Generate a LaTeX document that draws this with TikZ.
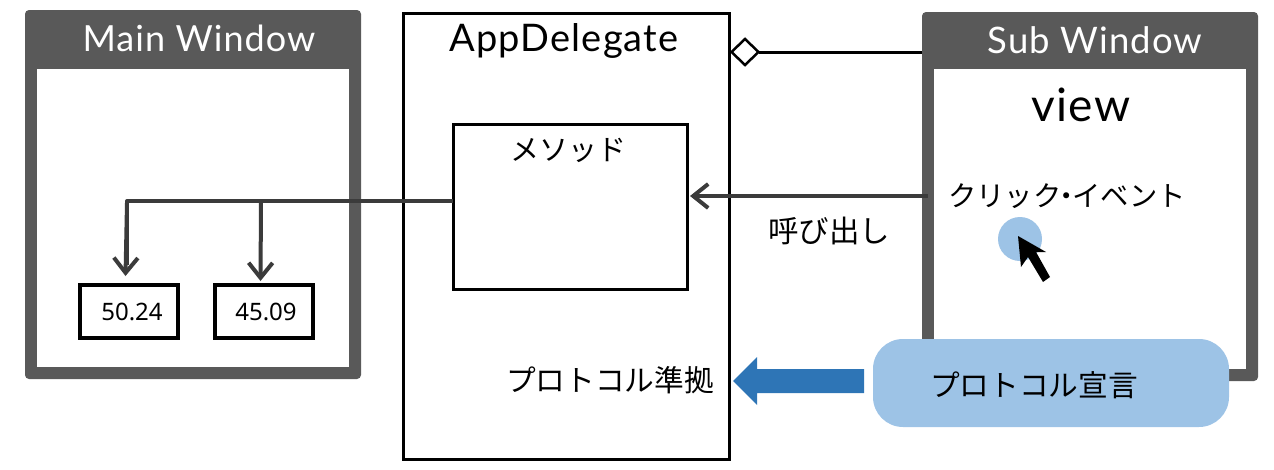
\documentclass[tikz,border=0pt]{standalone}
\usepackage{fontspec}
\usetikzlibrary{arrows.meta,shapes.geometric}
\setmainfont{Noto Sans CJK JP}
\newfontfamily\numfont{Noto Sans}
\newfontfamily\latfont[LetterSpace=3]{Lato}
\definecolor{wingray}{HTML}{595959}
\definecolor{lineink}{HTML}{3B3B3B}
\definecolor{softblue}{HTML}{9DC3E6}
\definecolor{deepblue}{HTML}{2E75B6}
\tikzset{
  x=1pt,y=-1pt,
  box/.style={anchor=north west,inner sep=0pt,outer sep=0pt,draw=none},
  winframe/.style={box,fill=wingray,rounded corners=4pt},
  winbody/.style={box,fill=white},
  wintitle/.style={text=white,inner sep=0pt,font=\latfont\fontsize{36}{36}\selectfont},
  plainbox/.style={box,draw=black,fill=white,line width=3pt},
  valbox/.style={box,draw=black,fill=white,line width=4pt},
  label/.style={inner sep=0pt,text=black,font=\fontsize{29.7}{30}\selectfont},
  vallabel/.style={inner sep=0pt,text=black,font=\numfont\fontsize{24}{24}\selectfont},
  wire/.style={draw=lineink,line width=4pt},
  wirearrow/.style={wire,-{Straight Barb[length=15pt,width=24pt,line width=4pt]}},
}
\begin{document}
\begin{tikzpicture}
\useasboundingbox (0,0) rectangle (1274,469);
% windows
\node[winframe,minimum width=336pt,minimum height=369pt] (mainframe) at (25,10) {};
\node[winbody,minimum width=312pt,minimum height=298pt] (mainbody) at (37,69) {};
\node[wintitle] (maintitle) at (199,38) {Main Window};
\node[winframe,minimum width=336pt,minimum height=369pt] (subframe) at (922,12) {};
\node[winbody,minimum width=312pt,minimum height=300pt] (subbody) at (934,69) {};
\node[wintitle,font=\latfont\fontsize{36.5}{37}\selectfont] (subtitle) at (1095,40) {Sub Window};
% AppDelegate
\node[plainbox,minimum width=326pt,minimum height=446pt] (app) at (403,13) {};
\node[label,font=\latfont\fontsize{38}{38}\selectfont] (apptitle) at (564,41) {AppDelegate};
\node[plainbox,minimum width=234pt,minimum height=165pt] (method) at (453,124) {};
\node[label,font=\fontsize{29}{29}\selectfont] (methodlabel) at (568,150) {メソッド};
% value boxes
\node[valbox,minimum width=98pt,minimum height=53pt] (valA) at (80,285) {};
\node[vallabel] (valAt) at (132,312) {50.24};
\node[valbox,minimum width=98pt,minimum height=53pt] (valB) at (214.5,285) {};
\node[vallabel] (valBt) at (266,312) {45.09};
% method to values
\coordinate (elbow) at (127,201);
\coordinate (branch) at (261,201);
\coordinate (endA) at (125.5,276);
\coordinate (endB) at (260.5,281);
\draw[wire,line join=round] (method.west |- elbow) -- (elbow) -- (127,240) -- (127,265);
\draw[wirearrow] (127,203) -- (endA);
\draw[wirearrow] (branch) -- (endB);
% aggregation
\node[diamond,draw=black,fill=white,line width=2.5pt,inner sep=0pt,minimum width=27pt,minimum height=26pt,outer sep=0pt] (diam) at (745,52) {};
\draw[black,line width=3pt] (diam.east) -- (subframe.west |- diam.east);
% call
\coordinate (callstart) at (928,196);
\coordinate (callend) at (690,196);
\draw[wirearrow] (callstart) -- (callend);
\node[label,font=\fontsize{30.5}{30}\selectfont] (calllabel) at (829,231) {呼び出し};
% sub window content
\node[label,font=\latfont\fontsize{46}{46}\selectfont] (viewlabel) at (1081,105) {view};
\node[label,font=\fontsize{28.3}{29}\selectfont] (clicklabel) at (1067,196) {クリック\kern-8.5pt・\kern-8.5ptイベント};
\node[circle,fill=softblue,minimum size=44pt,inner sep=0pt] (spot) at (1020,239) {};
\fill[black] (1018,236) -- (1046,252) -- (1036,252) -- (1050,277) -- (1043,282) -- (1028,257) -- (1021,267) -- cycle;
% protocol
\node[box,fill=softblue,rounded corners=30pt,minimum width=356pt,minimum height=88pt] (declbox) at (873,339) {};
\node[label] (decllabel) at (1034,385) {プロトコル宣言};
\node[label] (conflabel) at (610,380) {プロトコル準拠};
\fill[deepblue] (864,369) -- (757,369) -- (757,357) -- (733,381) -- (757,405) -- (757,393) -- (864,393) -- cycle;
\end{tikzpicture}
\end{document}
